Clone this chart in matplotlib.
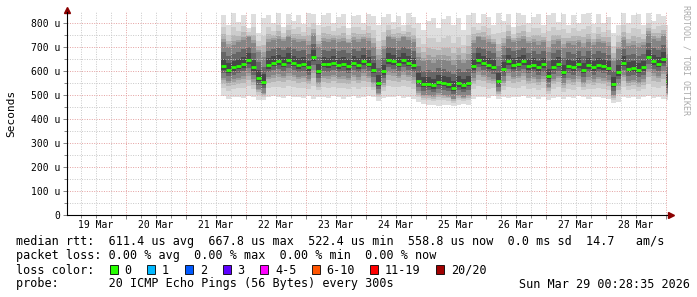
import matplotlib
matplotlib.use("Agg")
import matplotlib.pyplot as plt
import matplotlib.dates as mdates
from matplotlib.patches import Rectangle
import numpy as np
import pandas as pd

plt.rcParams['font.family'] = ['DejaVu Sans Mono']

# samples every 2 h from 21 Mar 14:00 (values in microseconds)
t_start = "2026-03-21 14:00"
n_pts = 90
median = [620, 605, 615, 622, 630, 645, 615, 570, 555, 625, 635, 640, 630, 645, 635,
          625, 630, 615, 660, 600, 630, 628, 635, 625, 630, 620, 635, 625, 640, 630,
          605, 552, 600, 645, 640, 630, 645, 635, 625, 560, 545, 548, 540, 555, 550,
          545, 530, 550, 540, 552, 620, 645, 635, 625, 618, 560, 610, 640, 625, 630,
          640, 620, 625, 615, 628, 580, 618, 630, 598, 622, 615, 628, 605, 625, 615,
          625, 620, 612, 545, 595, 635, 610, 612, 605, 615, 660, 640, 630, 650, 558]
ping_max = [835, 790, 840, 805, 835, 780, 838, 760, 820, 835, 800, 840, 785, 838, 810,
            835, 795, 840, 838, 790, 835, 840, 800, 825, 838, 780, 830, 835, 800, 838,
            830, 790, 825, 838, 805, 830, 790, 840, 825, 800, 770, 810, 820, 780, 815,
            830, 790, 820, 770, 835, 840, 800, 838, 825, 790, 840, 810, 838, 785, 840,
            835, 800, 825, 838, 790, 835, 840, 805, 838, 790, 835, 800, 838, 840, 795,
            838, 800, 825, 760, 790, 840, 800, 835, 838, 790, 840, 810, 838, 830, 790]
ping_min = [495, 485, 490, 492, 488, 495, 490, 480, 478, 490, 495, 492, 488, 495, 490,
            492, 488, 495, 485, 490, 493, 488, 495, 490, 485, 492, 495, 488, 490, 495,
            490, 475, 488, 492, 490, 495, 488, 490, 485, 470, 462, 458, 460, 455, 460,
            458, 455, 460, 462, 458, 485, 492, 490, 488, 495, 482, 490, 488, 492, 490,
            495, 488, 490, 485, 492, 480, 488, 492, 485, 490, 488, 495, 490, 485, 492,
            490, 488, 485, 465, 470, 490, 488, 492, 485, 490, 495, 488, 490, 485, 478]
q_hi = [720, 700, 710, 720, 730, 740, 715, 680, 660, 720, 730, 735, 725, 740, 730,
        720, 725, 710, 750, 700, 725, 720, 730, 720, 725, 715, 730, 720, 735, 725,
        700, 650, 690, 740, 735, 725, 740, 730, 720, 660, 640, 645, 635, 650, 645,
        640, 625, 645, 635, 648, 715, 740, 730, 720, 712, 660, 705, 735, 720, 725,
        735, 715, 720, 710, 722, 680, 712, 725, 695, 718, 710, 722, 700, 720, 710,
        720, 715, 705, 640, 690, 730, 705, 708, 700, 710, 755, 735, 725, 745, 655]
q_lo = [570, 560, 565, 572, 578, 590, 565, 525, 510, 575, 582, 588, 580, 592, 585,
        575, 580, 565, 605, 555, 580, 578, 585, 575, 580, 570, 585, 575, 590, 580,
        555, 510, 550, 595, 590, 580, 595, 585, 575, 515, 500, 502, 495, 508, 502,
        498, 485, 500, 492, 502, 570, 595, 585, 575, 568, 515, 560, 590, 575, 580,
        590, 570, 575, 565, 578, 535, 568, 580, 550, 572, 565, 578, 555, 575, 565,
        575, 570, 562, 500, 545, 585, 560, 562, 555, 565, 608, 590, 580, 600, 510]

day_labels = ["19 Mar", "20 Mar", "21 Mar", "22 Mar", "23 Mar",
              "24 Mar", "25 Mar", "26 Mar", "27 Mar", "28 Mar"]
loss_labels = ["0", "1", "2", "3", "4-5", "6-10", "11-19", "20/20"]
loss_colors = ["#26ff00", "#00b8ff", "#0059ff", "#5e00ff", "#ff00ff", "#ff5500", "#ff0000", "#a10000"]
stats_line = "median rtt:  611.4 us avg  667.8 us max  522.4 us min  558.8 us now  0.0 ms sd  14.7   am/s"
loss_line = "packet loss: 0.00 % avg  0.00 % max  0.00 % min  0.00 % now"
probe_text = "probe:       20 ICMP Echo Pings (56 Bytes) every 300s"
stamp = "Sun Mar 29 00:28:35 2026"

W, H = 697, 297
fig = plt.figure(figsize=(W / 100, H / 100), dpi=100)
fig.patch.set_facecolor("white")
ax = fig.add_axes([67 / W, 82 / H, 600 / W, 203 / H])

times = pd.date_range(t_start, periods=n_pts, freq="2h")
step = pd.Timedelta(hours=2)
t_edges = list(times) + [times[-1] + step]
def ext(a):
    a = np.asarray(a, float)
    return np.append(a, a[-1])

mn, mx, lo, hi, md = ext(ping_min), ext(ping_max), ext(q_lo), ext(q_hi), ext(median)

# smoke: outer layers min/max -> quartiles, then quartiles -> median
outer = [(0.0, 0.87), (0.45, 0.80), (0.7, 0.71), (0.88, 0.62)]
for f, g in outer:
    ax.fill_between(t_edges, mn + (lo - mn) * f, mx - (mx - hi) * f, step="post",
                    color=str(g), lw=0, zorder=1)
inner = [(0.0, 0.52), (0.4, 0.40), (0.7, 0.28)]
for f, g in inner:
    ax.fill_between(t_edges, lo + (md - lo) * f, hi - (hi - md) * f, step="post",
                    color=str(g), lw=0, zorder=1)

ax.hlines(median, times, times + step, color="#26ff00", lw=2.0, zorder=4)

end = pd.Timestamp("2026-03-29 00:28:35")
ax.set_xlim(end - pd.Timedelta(days=10), end)
ax.set_ylim(0, 846)

ax.xaxis.set_major_locator(mdates.DayLocator())
ax.xaxis.set_minor_locator(mdates.HourLocator(byhour=[6, 12, 18]))
ax.xaxis.set_major_formatter(plt.NullFormatter())
ax.set_yticks(range(0, 801, 100))
ax.set_yticks(range(50, 846, 100), minor=True)
ax.set_yticklabels(["0"] + ["%d u" % v for v in range(100, 801, 100)], fontsize=7)

ax.set_axisbelow(False)
ax.grid(which="major", color="#e4a0a0", ls=(0, (1, 1.5)), lw=0.7)
ax.grid(which="minor", color="#c8c8c8", ls=(0, (1, 1.5)), lw=0.7)
for sp in ["top", "right"]:
    ax.spines[sp].set_visible(False)
for sp in ["left", "bottom"]:
    ax.spines[sp].set_linewidth(0.8)
    ax.spines[sp].set_zorder(5)
ax.tick_params(which="both", direction="out", width=0.5, color="#555555", pad=2)
ax.tick_params(which="major", length=3)
ax.tick_params(which="minor", length=2)

# day labels centred at noon
for i, lab in enumerate(day_labels):
    tx = pd.Timestamp("2026-03-19 12:00") + pd.Timedelta(days=i)
    ax.text(mdates.date2num(tx), -0.025, lab, transform=ax.get_xaxis_transform(),
            ha="center", va="top", fontsize=7)

ax.set_ylabel("Seconds", fontsize=8)
ax.yaxis.set_label_coords(-0.085, 0.5)

# axis arrows
ax.plot([1.006], [0], marker=">", ms=4, color="#8b0000", transform=ax.transAxes, clip_on=False)
ax.plot([0], [1.01], marker="^", ms=4, color="#8b0000", transform=ax.transAxes, clip_on=False)

def fx(x):
    return x / W
def fy(y):
    return 1 - y / H

fig.text(fx(686), fy(5), "RRDTOOL / TOBI OETIKER", rotation=270, ha="center", va="top",
         fontsize=6, color="#aaaaaa")

fs = 8.5
fig.text(fx(16), fy(241), stats_line, fontsize=fs, va="center")
fig.text(fx(16), fy(256), loss_line, fontsize=fs, va="center")
fig.text(fx(16), fy(270), "loss color:", fontsize=fs, va="center")
box_x = [109.5, 147, 185, 222.5, 260, 311.5, 370, 436]
for bx, lab, c in zip(box_x, loss_labels, loss_colors):
    fig.patches.append(Rectangle((fx(bx), fy(274)), 8 / W, 9 / H, transform=fig.transFigure,
                                 facecolor=c, edgecolor="black", lw=0.6))
    fig.text(fx(bx + 15), fy(270), lab, fontsize=fs, va="center")
fig.text(fx(16), fy(284), probe_text, fontsize=fs, va="center")
fig.text(fx(690), fy(284), stamp, fontsize=fs, va="center", ha="right")

fig.savefig("out.png", dpi=100, facecolor="white")
